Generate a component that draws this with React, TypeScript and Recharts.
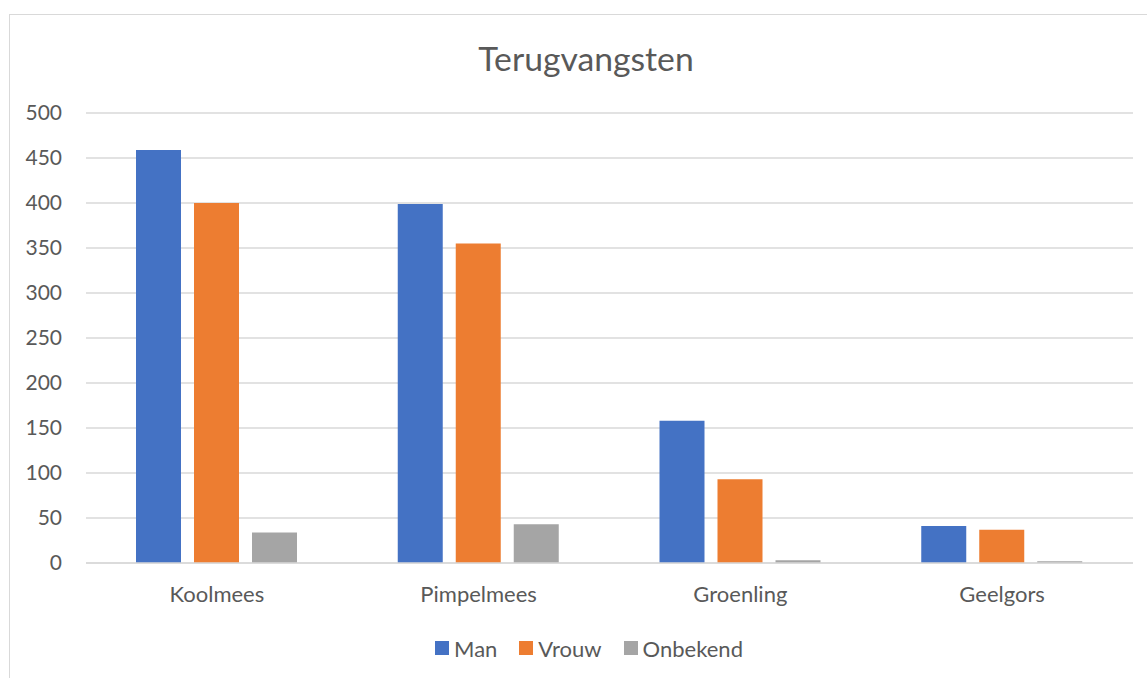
import React from "react";
import { BarChart, Bar, XAxis, YAxis, CartesianGrid, Legend } from "recharts";

const categories = ["Koolmees", "Pimpelmees", "Groenling", "Geelgors"];
const manValues = [459, 399, 158, 41];
const vrouwValues = [400, 355, 93, 37];
const onbekendValues = [34, 43, 3, 2];
const yTicks = [0, 50, 100, 150, 200, 250, 300, 350, 400, 450, 500];
const seriesNames = ["Man", "Vrouw", "Onbekend"];
const seriesColors = ["#4472C4", "#ED7D31", "#A5A5A5"];
const title = "Terugvangsten";

const data = categories.map((c, i) => ({
  name: c,
  Man: manValues[i],
  Vrouw: vrouwValues[i],
  Onbekend: onbekendValues[i],
}));

const FONT = "Lato, 'Open Sans', sans-serif";
const TEXT = "#595959";

const renderLegend = () => (
  <div
    style={{
      display: "flex",
      justifyContent: "center",
      alignItems: "center",
      height: 30,
      fontFamily: FONT,
      fontSize: 22,
      color: TEXT,
    }}
  >
    {seriesNames.map((n, i) => (
      <div key={n} style={{ display: "flex", alignItems: "center", marginRight: i < seriesNames.length - 1 ? 22 : 0 }}>
        <div style={{ width: 14, height: 14, background: seriesColors[i], marginRight: 5 }} />
        <span>{n}</span>
      </div>
    ))}
  </div>
);

export default function App() {
  return (
    <div style={{ position: "relative", width: 1147, height: 678, overflow: "hidden", background: "#fff" }}>
      <style>{"body{margin:0;overflow:hidden;}"}</style>
      <div
        style={{
          position: "absolute",
          left: 9,
          top: 14,
          width: 1200,
          height: 700,
          border: "1px solid #D9D9D9",
          boxSizing: "border-box",
        }}
      />
      <div
        style={{
          position: "absolute",
          left: 0,
          top: 38,
          width: 1172,
          textAlign: "center",
          fontFamily: FONT,
          fontSize: 33.7,
          color: TEXT,
          lineHeight: "normal",
          whiteSpace: "nowrap",
        }}
      >
        {title}
      </div>
      <div style={{ position: "absolute", left: 0, top: 0 }}>
        <BarChart
          width={1147}
          height={678}
          data={data}
          margin={{ top: 113, right: 14, bottom: 75, left: 0 }}
          barCategoryGap={50}
          barGap={13}
        >
          <CartesianGrid vertical={false} stroke="#D9D9D9" strokeWidth={1.5} />
          <XAxis
            dataKey="name"
            axisLine={{ stroke: "#D9D9D9", strokeWidth: 1.5 }}
            tickLine={false}
            tickSize={0}
            tickMargin={23}
            height={40}
            tick={{ fill: TEXT, fontFamily: FONT, fontSize: 22 }}
          />
          <YAxis
            domain={[0, 500]}
            ticks={yTicks}
            axisLine={false}
            tickLine={false}
            tickSize={0}
            tickMargin={24}
            width={86}
            interval={0}
            tick={{ fill: TEXT, fontFamily: FONT, fontSize: 21 }}
          />
          <Legend
            verticalAlign="middle"
            align="center"
            layout="horizontal"
            content={renderLegend}
            wrapperStyle={{ top: 633, left: 0, width: 1178, height: 30, bottom: "auto" }}
          />
          <Bar dataKey="Man" fill={seriesColors[0]} isAnimationActive={false} />
          <Bar dataKey="Vrouw" fill={seriesColors[1]} isAnimationActive={false} />
          <Bar dataKey="Onbekend" fill={seriesColors[2]} isAnimationActive={false} />
        </BarChart>
      </div>
    </div>
  );
}
